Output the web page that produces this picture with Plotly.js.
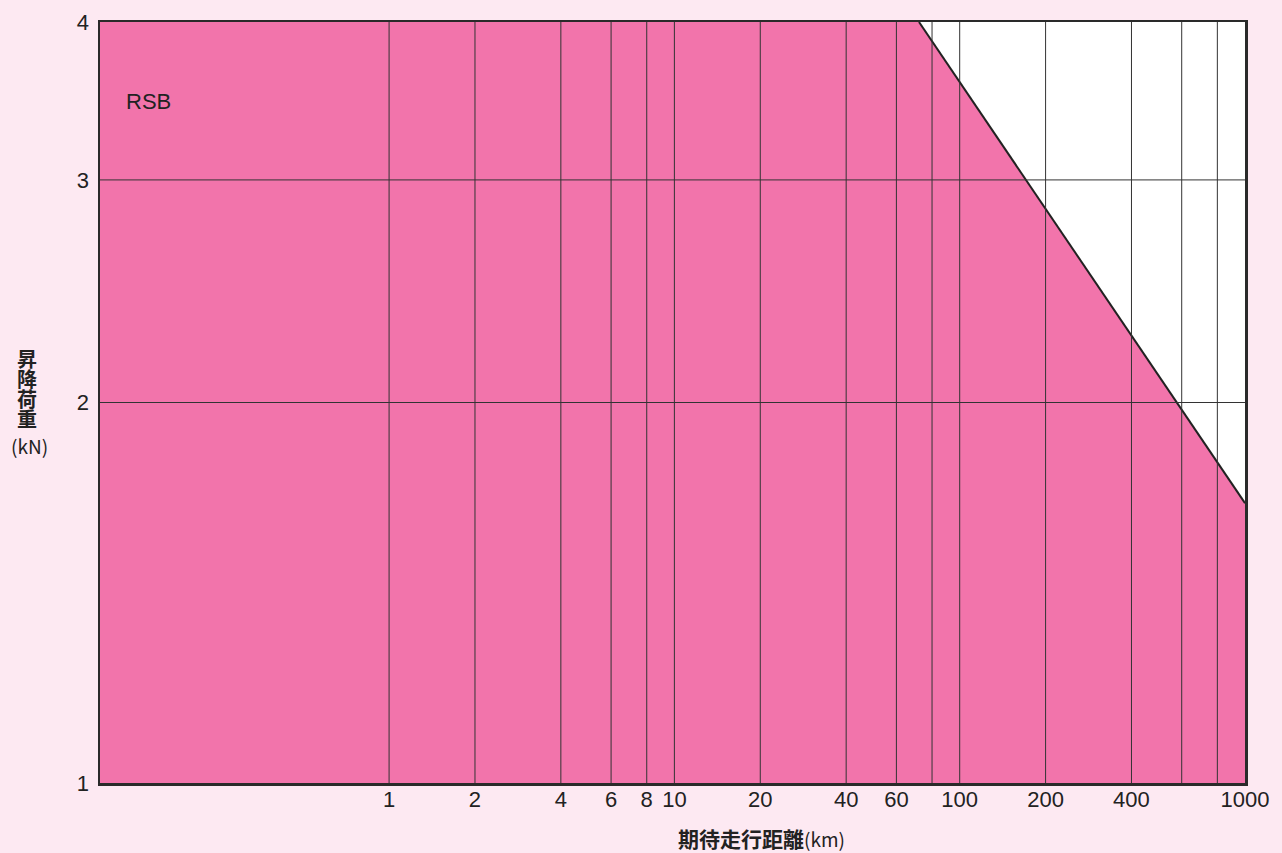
<!DOCTYPE html>
<html><head><meta charset="utf-8">
<script src="https://cdn.plot.ly/plotly-3.0.1.min.js"></script>
<style>html,body{margin:0;padding:0;background:#fde9f2;}</style>
</head><body><div id="chart" style="width:1282px;height:853px;"></div>
<script>
// Data (km, kN)
const xMinKm = 0.097;            // left edge of the chart
const kneeKm = 72;               // distance where the rated load starts to drop
const endKm = 1000;
const maxLoad = 4;
const endLoad = 1.665;
const minLoad = 1;

const areaX = [xMinKm, xMinKm, kneeKm, endKm, endKm, xMinKm];
const areaY = [minLoad, maxLoad, maxLoad, endLoad, minLoad, minLoad];
const edgeX = [kneeKm, endKm];
const edgeY = [maxLoad, endLoad];

const xTickVals = [1, 2, 4, 6, 8, 10, 20, 40, 60, 100, 200, 400, 1000];
const xTickText = ['1', '2', '4', '6', '8', '10', '20', '40', '60', '100', '200', '400', '1000'];
const xGrid = [1, 2, 4, 6, 8, 10, 20, 40, 60, 80, 100, 200, 400, 600, 800];
const yTickVals = [1, 2, 3, 4];
const yTickText = ['1', '2', '3', '4'];
const yGrid = [2, 3];

const numFont = {family: 'Liberation Sans, Arial, sans-serif', size: 22, color: '#222'};
const jpFont = 'Noto Sans CJK JP, sans-serif';

const traces = [
  {x: areaX, y: areaY, type: 'scatter', mode: 'lines', fill: 'toself',
   fillcolor: '#f274ab', line: {width: 0}, hoverinfo: 'skip', showlegend: false},
  {x: edgeX, y: edgeY, type: 'scatter', mode: 'lines',
   line: {color: '#222', width: 2}, hoverinfo: 'skip', showlegend: false}
];

const shapes = [];
xGrid.forEach(v => shapes.push({type: 'line', xref: 'x', yref: 'paper', x0: v, x1: v, y0: 0, y1: 1,
  layer: 'above', line: {color: '#333', width: 1}}));
yGrid.forEach(v => shapes.push({type: 'line', xref: 'paper', yref: 'y', x0: 0, x1: 1, y0: v, y1: v,
  layer: 'above', line: {color: '#333', width: 1}}));

const yTitleChars = ['昇', '降', '荷', '重'];
const annotations = [
  {text: 'RSB', xref: 'paper', yref: 'paper', x: (124 - 100) / 1145, y: (783 - 101) / 761,
   xanchor: 'left', yanchor: 'middle', showarrow: false,
   font: {family: 'Liberation Sans, Arial, sans-serif', size: 22, color: '#222'}},
  {text: '<b>期待走行距離</b><span style="font-size:19px">(km)</span>', xref: 'paper', yref: 'paper',
   x: (761 - 100) / 1145, y: -(838 - 783) / 761, xanchor: 'center', yanchor: 'middle', showarrow: false,
   font: {family: jpFont, size: 21, color: '#222'}},
  {text: yTitleChars.map(c => '<span style="font-size:20px"><b>' + c + '</b></span>').join('<br>'),
   xref: 'paper', yref: 'paper', x: -(100 - 27) / 1145, y: (783 - 388) / 761,
   xanchor: 'center', yanchor: 'middle', showarrow: false,
   font: {family: jpFont, size: 15.4, color: '#222'}},
  {text: '(kN)', xref: 'paper', yref: 'paper', x: -(100 - 29) / 1145, y: (783 - 446) / 761,
   xanchor: 'center', yanchor: 'middle', showarrow: false,
   font: {family: jpFont, size: 19, color: '#222'}}
];

const layout = {
  width: 1282, height: 853,
  margin: {l: 100, r: 37, t: 22, b: 70},
  paper_bgcolor: '#fde9f2', plot_bgcolor: '#ffffff',
  showlegend: false,
  xaxis: {type: 'log', range: [Math.log10(xMinKm), Math.log10(endKm)], tickvals: xTickVals, ticktext: xTickText,
    showgrid: false, zeroline: false, ticks: '', tickfont: numFont, ticklabelstandoff: -5,
    showline: true, mirror: true, linecolor: '#2a2a2a', linewidth: 2.5, fixedrange: true},
  yaxis: {type: 'log', range: [0, Math.log10(maxLoad)], tickvals: yTickVals, ticktext: yTickText,
    showgrid: false, zeroline: false, ticks: '', tickfont: numFont, ticklabelstandoff: 4,
    showline: true, mirror: true, linecolor: '#2a2a2a', linewidth: 2.5, fixedrange: true},
  shapes: shapes,
  annotations: annotations
};

Plotly.newPlot('chart', traces, layout, {displayModeBar: false, staticPlot: true});
</script>
</body></html>
